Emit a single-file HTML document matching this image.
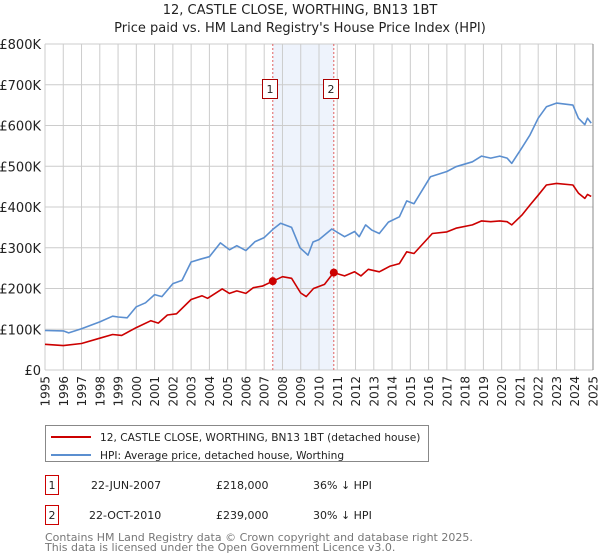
<!DOCTYPE html>
<html><head><meta charset="utf-8"><style>
body{margin:0;background:#fff;font-family:"DejaVu Sans","Liberation Sans",sans-serif;}
svg{display:block}
</style></head><body>
<svg id="chart" width="600" height="560" viewBox="0 0 600 560" font-family="DejaVu Sans, Liberation Sans, sans-serif">
<text x="300" y="14" text-anchor="middle" font-size="13" fill="#222">12, CASTLE CLOSE, WORTHING, BN13 1BT</text>
<text x="300" y="32" text-anchor="middle" font-size="13" fill="#222">Price paid vs. HM Land Registry's House Price Index (HPI)</text>
<g id="plot"></g>
<g>
<rect x="45.5" y="425.5" width="383" height="36" fill="#fff" stroke="#888"/>
<line x1="51" y1="437" x2="91" y2="437" stroke="#cc0000" stroke-width="2"/>
<text x="100" y="441" font-size="10.6" fill="#222">12, CASTLE CLOSE, WORTHING, BN13 1BT (detached house)</text>
<line x1="51" y1="455" x2="91" y2="455" stroke="#5b8fd0" stroke-width="2"/>
<text x="100" y="459" font-size="10.6" fill="#222">HPI: Average price, detached house, Worthing</text>
</g>
<g font-size="11" fill="#222">
<rect x="45.5" y="475.5" width="13" height="19" fill="#fff" stroke="#cc0000"/>
<text x="52" y="489" text-anchor="middle">1</text>
<text x="91" y="489">22-JUN-2007</text>
<text x="216" y="489">£218,000</text>
<text x="313" y="489">36% ↓ HPI</text>
</g>
<g font-size="11" fill="#222">
<rect x="45.5" y="505.5" width="13" height="19" fill="#fff" stroke="#cc0000"/>
<text x="52" y="519" text-anchor="middle">2</text>
<text x="89" y="519">22-OCT-2010</text>
<text x="216" y="519">£239,000</text>
<text x="313" y="519">30% ↓ HPI</text>
</g>
<text x="45" y="541" font-size="11" fill="#777">Contains HM Land Registry data © Crown copyright and database right 2025.</text>
<text x="45" y="551" font-size="11" fill="#777">This data is licensed under the Open Government Licence v3.0.</text>
</svg>
<script>
const yTicks=[0,100000,200000,300000,400000,500000,600000,700000,800000];
const yTickLabels=["£0","£100K","£200K","£300K","£400K","£500K","£600K","£700K","£800K"];
const xYears=[1995,1996,1997,1998,1999,2000,2001,2002,2003,2004,2005,2006,2007,2008,2009,2010,2011,2012,2013,2014,2015,2016,2017,2018,2019,2020,2021,2022,2023,2024,2025];
const hpiT=[1995,1996,1996.3,1997,1998,1998.7,1999,1999.5,2000,2000.5,2001,2001.4,2002,2002.5,2003,2003.5,2004,2004.6,2005.1,2005.5,2006,2006.5,2007,2007.47,2007.9,2008.5,2008.96,2009.4,2009.67,2010,2010.7,2011.4,2011.95,2012.2,2012.55,2012.9,2013.3,2013.8,2014.4,2014.8,2015.2,2016.1,2017,2017.5,2018.4,2018.9,2019.4,2019.9,2020.3,2020.55,2021.1,2021.55,2022,2022.45,2023,2023.9,2024.2,2024.55,2024.7,2024.9];
const hpiV=[97,96,91,101,118,132,130,128,155,165,185,180,212,220,265,272,278,312,295,305,293,315,325,345,360,350,300,282,314,320,346,327,340,327,356,343,335,363,376,415,408,474,487,499,511,525,520,525,520,507,545,577,618,646,655,650,618,602,618,606];
const paidT=[1995,1996,1997,1998,1998.7,1999.2,2000,2000.8,2001.2,2001.7,2002.2,2003,2003.6,2003.9,2004.7,2005.1,2005.5,2006,2006.4,2006.9,2007.47,2008,2008.5,2009,2009.3,2009.7,2010.3,2010.8,2011.4,2011.95,2012.3,2012.7,2013.3,2013.9,2014.4,2014.8,2015.2,2016.2,2017,2017.5,2018.4,2018.9,2019.4,2019.9,2020.3,2020.55,2021.1,2021.55,2022,2022.45,2023,2023.9,2024.2,2024.55,2024.7,2024.9];
const paidV=[63,60,65,78,87,85,104,121,115,135,138,173,182,176,199,188,194,188,202,206,218,229,225,189,180,200,210,239,231,241,231,247,241,255,261,290,286,335,339,348,356,366,364,366,364,356,380,405,429,454,458,454,434,421,431,426];
const saleT=[2007.47,2010.81];
const saleV=[218,239];
const saleLabels=["1","2"];

const X0=45,X1=593,Y0=370,Y1=44;
const xs=t=>X0+(t-1995)/(2025-1995)*(X1-X0);
const ys=v=>Y0-v/800000*(Y0-Y1);
const NS="http://www.w3.org/2000/svg";
const g=document.getElementById('plot');
function mk(tag,attrs,parent){const e=document.createElementNS(NS,tag);for(const k in attrs)e.setAttribute(k,attrs[k]);(parent||g).appendChild(e);return e;}

const shade=mk('rect',{x:xs(saleT[0]),y:Y1,width:xs(saleT[1])-xs(saleT[0]),height:Y0-Y1,fill:'#eef3fc'});



yTicks.forEach((v,i)=>{
  const l=mk('line',{x1:X0,x2:X1,y1:ys(v),y2:ys(v),stroke:'#cccccc','stroke-width':1});
  
  
  const t=mk('text',{x:41,y:ys(v)+5,'text-anchor':'end','font-size':13,fill:'#222'});
  t.textContent=yTickLabels[i];
  
  
});
xYears.forEach(yr=>{
  const l=mk('line',{x1:xs(yr),x2:xs(yr),y1:Y1,y2:Y0,stroke:'#cccccc','stroke-width':1});
  
  
  const x=xs(yr)+4.5;
  const t=mk('text',{x:x,y:376,transform:`rotate(-90 ${x} 376)`,'text-anchor':'end','font-size':12,fill:'#222'});
  t.textContent=yr;
  
  
});
const edge=mk('line',{x1:X1,x2:X1,y1:Y1,y2:Y0,stroke:'#888','stroke-width':1});



saleT.forEach((t,i)=>{
  const l=mk('line',{x1:xs(t),x2:xs(t),y1:Y1,y2:Y0,stroke:'#e06060','stroke-width':1,'stroke-dasharray':'2,2'});
  
  
});

function path(T,V,color,name){
  const d=T.map((t,i)=>(i?'L':'M')+xs(t).toFixed(1)+','+ys(V[i]*1000).toFixed(1)).join('');
  const p=mk('path',{d:d,fill:'none',stroke:color,'stroke-width':1.6,'stroke-linejoin':'round'});
  
  
}
path(hpiT,hpiV,'#5b8fd0','hpi-line');
path(paidT,paidV,'#cc0000','price-paid-line');

saleT.forEach((t,i)=>{
  const c=mk('circle',{cx:xs(t),cy:ys(saleV[i]*1000),r:4,fill:'#cc0000'});
  
  
  const bx=Math.round(xs(t))-11;
  const r=mk('rect',{x:bx+0.5,y:79.5,width:15,height:19,fill:'#fff',stroke:'#aa0000'});
  
  
  const tx=mk('text',{x:bx+8,y:93,'text-anchor':'middle','font-size':11,fill:'#222'});
  tx.textContent=saleLabels[i];
  
  
});
</script>
</body></html>
